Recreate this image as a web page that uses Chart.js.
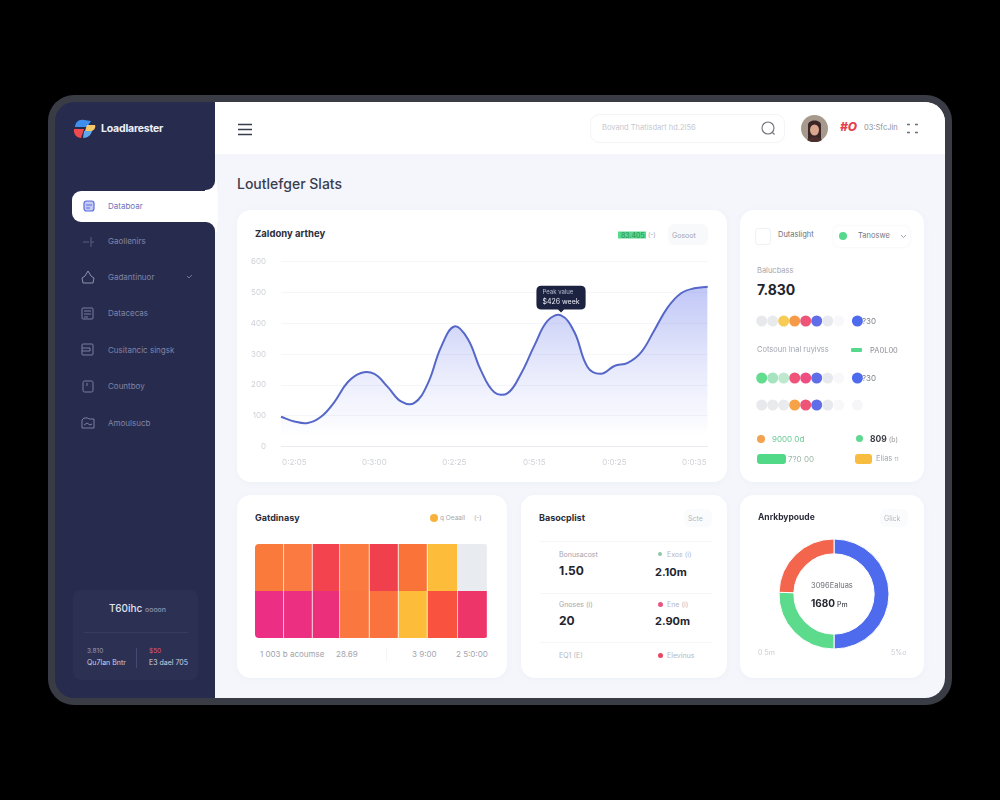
<!DOCTYPE html>
<html>
<head>
<meta charset="utf-8">
<title>Loutlefger Slats</title>
<script src="https://cdn.jsdelivr.net/npm/chart.js@4"></script>
<style>
html,body{margin:0;padding:0;background:#000;width:1000px;height:800px;overflow:hidden;font-family:Inter,"Noto Sans",sans-serif}
.box,.t,canvas,svg{position:absolute}
.t{white-space:nowrap;line-height:1;transform:translateY(-50%)}
.card{position:absolute;background:#fff;border-radius:14px;box-shadow:0 1px 6px rgba(120,130,170,.05)}
.nav{font-size:8px;color:#8084a6}
.gray{font-size:7.5px;color:#a3a6b1}
.ttl{font-size:9.5px;font-weight:700;color:#2b2d3a}
.big{font-weight:700;color:#22242e}
</style>
</head>
<body>
<!-- frame -->
<div class="box" style="left:48px;top:95px;width:904px;height:610px;background:#3a3c45;border-radius:26px"></div>
<div class="box" style="left:55px;top:102px;width:890px;height:596px;background:#272c4e;border-radius:20px;overflow:hidden">
  <div class="box" style="left:160px;top:0;width:730px;height:596px;background:#f4f6fb"></div>
  <div class="box" style="left:160px;top:0;width:730px;height:52px;background:#fff"></div>
  <div class="box" style="left:150px;top:78px;width:12px;height:52px;background:#fff"></div>
  <div class="box" style="left:0;top:0;width:160px;height:88px;background:#272c4e;border-bottom-right-radius:9px;border-top-right-radius:7px"></div>
  <div class="box" style="left:0;top:120px;width:160px;height:476px;background:#272c4e;border-top-right-radius:9px;border-bottom-right-radius:4px"></div>
  <div class="box" style="left:17px;top:89px;width:146px;height:31px;background:#fff;border-radius:9px 0 0 9px"></div>
</div>

<!-- sidebar -->
<svg style="left:73px;top:119px" width="23" height="21" viewBox="0 0 23 21">
  <path d="M2 9C2 3 6 0 11 1l7 1-4 6H2z" fill="#3f8ff0"/>
  <path d="M1 10h10l-3 9C4 19 0 15 1 10z" fill="#ee4a4f"/>
  <path d="M14 6h8c1 3-1 5-3 6h-7z" fill="#f6c66a"/>
  <path d="M11 12h8c-1 4-4 7-9 7z" fill="#5fa8ee"/>
</svg>
<div class="t" style="left:101px;top:129px;font-size:10.5px;font-weight:700;color:#eef0f8;letter-spacing:-.2px">Loadlarester</div>

<svg style="left:83px;top:200px" width="12" height="12" viewBox="0 0 12 12"><rect x="1" y="1" width="10" height="10" rx="2.5" fill="#c4cbf4" stroke="#5a6cdc" stroke-width="1.2"/><path d="M3 5h6M3 8h4" stroke="#5a6cdc"/></svg>
<div class="t nav" style="left:108px;top:206px;color:#6a74bc">Databoar</div>

<svg style="left:81px;top:234px" width="15" height="15" viewBox="0 0 15 15" fill="none" stroke="#585d82"><path d="M2 8h6M10 3v10M10 8h3"/></svg>
<div class="t nav" style="left:108px;top:241px">Gaollenirs</div>
<svg style="left:81px;top:270px" width="14" height="14" viewBox="0 0 14 14" fill="none" stroke="#8d91ad"><path d="M7 1l3 5 3 2-1 5H2L1 8l3-2z"/></svg>
<div class="t nav" style="left:108px;top:277px">Gadantinuor</div>
<svg style="left:81px;top:307px" width="13" height="13" viewBox="0 0 13 13" fill="none" stroke="#7b7fa0"><rect x="1" y="1" width="11" height="11" rx="1"/><path d="M3 4h7M3 7h7M3 10h4"/></svg>
<div class="t nav" style="left:108px;top:313px">Datacecas</div>
<svg style="left:81px;top:343px" width="13" height="13" viewBox="0 0 13 13" fill="none" stroke="#7b7fa0"><rect x="1" y="1" width="11" height="11" rx="1"/><path d="M1 5h8v3H1"/></svg>
<div class="t nav" style="left:108px;top:350px">Cusitancic singsk</div>
<svg style="left:82px;top:380px" width="12" height="13" viewBox="0 0 12 13" fill="none" stroke="#7b7fa0"><rect x="1" y="1" width="10" height="11" rx="1.5"/><path d="M5 3v3"/></svg>
<div class="t nav" style="left:108px;top:386px">Countboy</div>
<svg style="left:81px;top:417px" width="14" height="12" viewBox="0 0 14 12" fill="none" stroke="#7b7fa0"><path d="M1 11V3l2-2h4l1 1h5v9zM3 8l3-2 3 2 2-1"/></svg>
<div class="t nav" style="left:108px;top:423px">Amoulsucb</div>
<svg style="left:186px;top:274px" width="7" height="6" viewBox="0 0 7 6" fill="none" stroke="#70759a"><path d="M1 2l2 2 3-3"/></svg>

<div class="box" style="left:73px;top:590px;width:125px;height:90px;background:#2c3154;border-radius:8px"></div>
<div class="t" style="left:109px;top:608px;font-size:10px;font-weight:500;color:#dfe2ef">T60ihc <span style="font-size:7px;color:#8d91ad">oooon</span></div>
<div class="box" style="left:84px;top:632px;width:104px;height:1px;background:#363b60"></div>
<div class="box" style="left:136px;top:648px;width:1px;height:20px;background:#444a72"></div>
<div class="t" style="left:87px;top:651px;font-size:6.5px;color:#9a9eba">3.810</div>
<div class="t" style="left:87px;top:662px;font-size:7px;color:#cfd2e2">Qu7lan Bntr</div>
<div class="t" style="left:149px;top:651px;font-size:6.5px;color:#e8566a">$50</div>
<div class="t" style="left:149px;top:662px;font-size:7px;color:#cfd2e2">E3 dael 705</div>

<!-- header -->
<svg style="left:237px;top:123px" width="16" height="13" viewBox="0 0 16 13" stroke="#3a3d4d" stroke-width="1.3"><path d="M1 1.5h14M1 6.5h14M1 11.5h14"/></svg>
<div class="box" style="left:590px;top:114px;width:195px;height:29px;box-sizing:border-box;border:1px solid #f3f4f7;border-radius:9px"></div>
<div class="t" style="left:602px;top:128px;font-size:7.5px;color:#c6c8cf">Bovand Thatisdart hd.2l56</div>
<svg style="left:760px;top:120px" width="17" height="17" viewBox="0 0 17 17" fill="none" stroke="#6d7079" stroke-width="1.1"><circle cx="8" cy="8" r="6"/><path d="M12.5 12.5l2 2"/></svg>
<svg style="left:801px;top:115px" width="27" height="27" viewBox="0 0 27 27">
  <circle cx="13.5" cy="13.5" r="13.5" fill="#a79a8c"/>
  <path d="M7 24V10c0-6 13-6 13 0v14z" fill="#3a2626"/>
  <ellipse cx="13.5" cy="15" rx="4.5" ry="5.5" fill="#d9a78e"/>
  <path d="M6 25c2-4 13-4 15 0-4 3-11 3-15 0z" fill="#4b2f2c"/>
</svg>
<div class="t" style="left:840px;top:127px;font-size:12px;font-weight:800;font-style:italic;color:#e3404f">#O</div>
<div class="t gray" style="left:864px;top:128px;color:#8d9099">03:SfcJin</div>
<svg style="left:907px;top:123px" width="11" height="11" viewBox="0 0 11 11" stroke="#6d7079" stroke-width="1.4"><path d="M0 1.5h3M8 1.5h3M0 9.5h3M8 9.5h3"/></svg>

<div class="t" style="left:237px;top:184px;font-size:14px;font-weight:500;color:#3a3d4f">Loutlefger Slats</div>

<!-- cards -->
<div class="card" style="left:237px;top:210px;width:490px;height:272px"></div>
<div class="card" style="left:740px;top:210px;width:184px;height:272px"></div>
<div class="card" style="left:237px;top:495px;width:270px;height:183px"></div>
<div class="card" style="left:521px;top:495px;width:206px;height:183px"></div>
<div class="card" style="left:740px;top:495px;width:184px;height:183px"></div>

<!-- line card -->
<div class="t ttl" style="left:255px;top:234px">Zaldony arthey</div>
<div class="t" style="left:618px;top:234.5px;font-size:7px;color:#2f8f5a;background:#56d98d;padding:0 1px 0 3px;height:7px;line-height:7px">83.405</div>
<div class="t gray" style="left:648px;top:235px;font-size:6.5px">(-)</div>
<div class="box" style="left:668px;top:224px;width:40px;height:21px;background:#f8f9fb;border-radius:6px"></div>
<div class="t gray" style="left:672px;top:235px;font-size:7px">Gosoot</div>
<canvas id="lineChart" width="472" height="233" style="left:245px;top:242px"></canvas>

<!-- side card -->
<div class="box" style="left:755px;top:228px;width:16px;height:17px;border:1px solid #f0f1f4;border-radius:3px;box-sizing:border-box"></div>
<div class="t gray" style="left:778px;top:235px;color:#6c6f78">Dutaslight</div>
<div class="box" style="left:833px;top:226px;width:77px;height:21px;border-radius:7px;box-shadow:0 0 3px rgba(120,130,170,.12)"></div>
<div class="box" style="left:839px;top:232px;width:8px;height:8px;background:#56d98d;border-radius:50%"></div>
<div class="t gray" style="left:858px;top:236px;color:#74777f">Tanoswe</div>
<svg style="left:900px;top:234px" width="7" height="5" viewBox="0 0 7 5" fill="none" stroke="#a3a6b1"><path d="M1 1l2.5 2.5L6 1"/></svg>
<div class="t gray" style="left:757px;top:271px">Balucbass</div>
<div class="t big" style="left:757px;top:290px;font-size:14px">7.830</div>
<canvas id="dotsA" width="120" height="16" style="left:755px;top:313px"></canvas>
<div class="t gray" style="left:862px;top:321px;font-size:8px;color:#7d8088">?30</div>
<div class="t gray" style="left:757px;top:350px">Cotsoun Inal ruyivss</div>
<div class="box" style="left:851px;top:348px;width:11px;height:4px;background:#56d98d;border-radius:1px"></div>
<div class="t gray" style="left:870px;top:351px;color:#8a8d95">PA0L00</div>
<canvas id="dotsB" width="120" height="16" style="left:755px;top:370px"></canvas>
<div class="t gray" style="left:862px;top:378px;font-size:8px;color:#7d8088">?30</div>
<canvas id="dotsC" width="120" height="16" style="left:755px;top:397px"></canvas>
<div class="box" style="left:757px;top:435px;width:8px;height:8px;background:#f4a24f;border-radius:50%"></div>
<div class="t" style="left:772px;top:439px;font-size:8px;color:#67c993">9000 0d</div>
<div class="box" style="left:856px;top:435px;width:7px;height:7px;background:#5fd98f;border-radius:50%"></div>
<div class="t big" style="left:870px;top:439px;font-size:8.5px;color:#3c3e47">809 <span style="font-weight:400;font-size:7px;color:#999">(b)</span></div>
<div class="box" style="left:757px;top:454px;width:29px;height:10px;background:#52d987;border-radius:3px"></div>
<div class="t" style="left:788px;top:459px;font-size:8px;color:#9fb8aa">7?0 00</div>
<div class="box" style="left:855px;top:454px;width:17px;height:10px;background:#f8bd3f;border-radius:3px"></div>
<div class="t gray" style="left:876px;top:459px">Elias <span style="font-size:5px">11</span></div>

<!-- heatmap card -->
<div class="t ttl" style="left:255px;top:517px;font-size:9px">Gatdinasy</div>
<div class="box" style="left:430px;top:514px;width:8px;height:8px;background:#f8b13d;border-radius:50%"></div>
<div class="t gray" style="left:440px;top:518px;font-size:6.5px">q Oeaall</div>
<div class="t gray" style="left:474px;top:518px;font-size:6.5px">(-)</div>
<div class="box" style="left:255px;top:544px;width:233px;height:94px;border-radius:4px;overflow:hidden">
  <canvas id="heatChart" width="233" height="94" style="left:0;top:0"></canvas>
</div>
<div class="t gray" style="left:260px;top:654px;font-size:8px;color:#a0a3ac">1 003 b acoumse</div>
<div class="t gray" style="left:336px;top:654px;font-size:8px">28.69</div>
<div class="box" style="left:386px;top:648px;width:1px;height:14px;background:#f4f5f8"></div>
<div class="t gray" style="left:412px;top:654px;font-size:8px">3 9:00</div>
<div class="t gray" style="left:456px;top:654px;font-size:8px">2 5:0:00</div>

<!-- list card -->
<div class="t ttl" style="left:539px;top:517px;font-size:9px">Basocplist</div>
<div class="box" style="left:684px;top:509px;width:28px;height:18px;background:#fafbfc;border-radius:6px"></div>
<div class="t gray" style="left:688px;top:518px;font-size:7px;color:#b5b7bf">Scte</div>
<div class="box" style="left:540px;top:541px;width:172px;height:1px;background:#f5f6f9"></div>
<div class="t gray" style="left:559px;top:554px;font-size:7px">Bonusacost</div>
<div class="t big" style="left:559px;top:571px;font-size:12px">1.50</div>
<div class="box" style="left:658px;top:552px;width:4px;height:4px;background:#8fc7a8;border-radius:50%"></div>
<div class="t gray" style="left:667px;top:554px;font-size:7px;color:#b5b7bf">Exos (i)</div>
<div class="t big" style="left:655px;top:572px;font-size:11px">2.10m</div>
<div class="box" style="left:540px;top:593px;width:172px;height:1px;background:#f5f6f9"></div>
<div class="t gray" style="left:559px;top:604px;font-size:7px">Gnoses (i)</div>
<div class="t big" style="left:559px;top:621px;font-size:12px">20</div>
<div class="box" style="left:658px;top:602px;width:5px;height:5px;background:#e8567e;border-radius:50%"></div>
<div class="t gray" style="left:667px;top:604px;font-size:7px;color:#b5b7bf">Ene (i)</div>
<div class="t big" style="left:655px;top:621px;font-size:11px">2.90m</div>
<div class="box" style="left:540px;top:642px;width:172px;height:1px;background:#f5f6f9"></div>
<div class="t gray" style="left:559px;top:655px;font-size:7px;color:#b5b7bf">EQ1 (E)</div>
<div class="box" style="left:658px;top:653px;width:5px;height:5px;background:#e8455f;border-radius:50%"></div>
<div class="t gray" style="left:667px;top:655px;font-size:7px;color:#b5b7bf">Elevinus</div>

<!-- donut card -->
<div class="t ttl" style="left:758px;top:517px;font-size:8.5px">Anrkbypoude</div>
<div class="box" style="left:880px;top:509px;width:28px;height:18px;background:#fafbfc;border-radius:6px"></div>
<div class="t gray" style="left:884px;top:518px;font-size:7px;color:#b5b7bf">Glick</div>
<canvas id="donutChart" width="120" height="120" style="left:773.5px;top:533.5px"></canvas>
<div class="t" style="left:811px;top:586px;font-size:7.5px;color:#6c6f78">3096Ealuas</div>
<div class="t big" style="left:811px;top:603px;font-size:10px">1680<span style="font-weight:400;font-size:7px"> Pm</span></div>
<div class="t gray" style="left:758px;top:652px;font-size:7px;color:#c9cbd2">0 5m</div>
<div class="t gray" style="left:891px;top:652px;font-size:7px;color:#c9cbd2">5%o</div>

<script>
// line chart
const categories = ['', '0:2:05', '', '', '', '', '', '0:3:00', '', '', '', '', '', '0:2:25', '', '', '', '', '', '0:5:15', '', '', '', '', '', '0:0:25', '', '', '', '', '', '0:0:35', ''];
const lineValues = [97, 82, 77, 97, 145, 209, 239, 236, 194, 147, 142, 204, 323, 390, 350, 247, 177, 174, 237, 328, 409, 426, 372, 258, 237, 262, 272, 306, 378, 452, 498, 514, 519];
const yMax = 600;
const yStep = 100;
const peakIndex = 21;
const tooltipTitle = 'Peak value';
const tooltipBody = '$426 week';

// heatmap: one stacked dataset per column, one bar per row
const heatRows = ['top', 'bottom'];
const heatColumnWidths = [29, 28.5, 27.5, 29.5, 29, 29, 30.5, 29.5];
const heatTopColours = ['#fa7a3c', '#fa7a42', '#f3434f', '#fa7a40', '#f0404e', '#fa743a', '#fdbd3a', '#e8ebf0'];
const heatBottomColours = ['#ec2f85', '#ec2f80', '#ec2f7a', '#fa7840', '#fa723e', '#fdbd3a', '#f9523f', '#ee3569'];

// donut
const donutLabels = ['Blue', 'Green', 'Red'];
const donutValues = [50, 25.5, 24.5];
const donutColours = ['#4f6bed', '#5ddb8c', '#f4654e'];

// dot rows
const dotX = [0, 1, 2, 3, 4, 5, 6, 7, 8.7];
const dotsA = ['#e8e9ec', '#e9eaec', '#f7cb55', '#f59a48', '#ee5478', '#5f6ee8', '#e8e9ee', '#f8f8fa', '#4f6bed'];
const dotsB = ['#62dc8f', '#a5e4be', '#bfe9cf', '#ef5478', '#ee4f82', '#5f6ee8', '#e8e9ee', '#f8f8fa', '#4f6bed'];
const dotsC = ['#e8e9ec', '#e9eaec', '#eaebee', '#f6a347', '#ee5478', '#5f6ee8', '#e8e9ee', '#f8f8fa', '#f6f6f8'];

Chart.defaults.animation = false;
Chart.defaults.responsive = false;
Chart.defaults.font.family = 'Inter, "Noto Sans", sans-serif';

function lineGradient(context) {
  const area = context.chart.chartArea;
  if (!area) return 'rgba(93,110,230,.3)';
  const g = context.chart.ctx.createLinearGradient(0, area.top + 25, 0, area.bottom - 10);
  g.addColorStop(0, 'rgba(90,108,232,.38)');
  g.addColorStop(0.55, 'rgba(90,108,232,.14)');
  g.addColorStop(1, 'rgba(90,108,232,0)');
  return g;
}

const lineChart = new Chart(document.getElementById('lineChart'), {
  type: 'line',
  data: {
    labels: categories,
    datasets: [{
      data: lineValues,
      borderColor: '#5567c8',
      borderWidth: 2,
      backgroundColor: lineGradient,
      fill: 'origin',
      tension: 0.4,
      pointRadius: 0,
      pointHoverRadius: 0
    }]
  },
  options: {
    layout: { autoPadding: false, padding: { top: 0, right: 9.3, bottom: 0, left: 0 } },
    events: [],
    plugins: {
      legend: { display: false },
      tooltip: {
        enabled: true,
        yAlign: 'bottom',
        xAlign: 'center',
        backgroundColor: '#1c2340',
        cornerRadius: 5,
        caretSize: 3,
        caretPadding: 3,
        padding: { top: 3, bottom: 3, left: 6, right: 6 },
        displayColors: false,
        titleFont: { size: 6, weight: 'normal' },
        titleColor: '#b8bdd4',
        titleMarginBottom: 2,
        bodyFont: { size: 7 },
        bodyColor: '#e8eaf4',
        callbacks: {
          title: () => tooltipTitle,
          label: () => tooltipBody
        }
      }
    },
    scales: {
      x: {
        grid: { display: false },
        border: { color: '#e9ebf1' },
        offset: false,
        afterFit: s => { s.height = 28.3; },
        ticks: {
          color: '#cfd1d8',
          font: { size: 8 },
          padding: 3,
          autoSkip: false,
          maxRotation: 0
        }
      },
      y: {
        min: 0,
        max: yMax,
        grid: { color: '#f5f6f9', drawTicks: false },
        border: { display: false },
        afterFit: s => { s.width = 36; },
        ticks: { stepSize: yStep, color: '#cfd1d8', font: { size: 8 }, padding: 15 }
      }
    }
  }
});
lineChart.tooltip.setActiveElements([{ datasetIndex: 0, index: peakIndex }], { x: 0, y: 0 });
lineChart.update();

new Chart(document.getElementById('heatChart'), {
  type: 'bar',
  data: {
    labels: heatRows,
    datasets: heatColumnWidths.map((w, i) => ({
      data: [w, w],
      backgroundColor: [heatTopColours[i], heatBottomColours[i]],
      borderColor: 'rgba(255,255,255,.3)',
      borderWidth: { right: 1 },
      barPercentage: 1,
      categoryPercentage: 1
    }))
  },
  options: {
    indexAxis: 'y',
    events: [],
    layout: { padding: 0 },
    plugins: { legend: { display: false }, tooltip: { enabled: false } },
    scales: {
      x: { stacked: true, display: false, min: 0, max: 233 },
      y: { stacked: true, display: false }
    }
  }
});

new Chart(document.getElementById('donutChart'), {
  type: 'doughnut',
  data: {
    labels: donutLabels,
    datasets: [{ data: donutValues, backgroundColor: donutColours, borderColor: '#fff', borderWidth: 1 }]
  },
  options: {
    cutout: '73%',
    radius: 55,
    events: [],
    plugins: { legend: { display: false }, tooltip: { enabled: false } }
  }
});

function drawDots(id, colours) {
  new Chart(document.getElementById(id), {
    type: 'scatter',
    data: {
      datasets: [{
        data: dotX.map(x => ({ x: x, y: 0 })),
        backgroundColor: colours,
        borderWidth: 0,
        pointRadius: 5.5,
        pointHoverRadius: 5.5
      }]
    },
    options: {
      events: [],
      layout: { autoPadding: false, padding: 0 },
      plugins: { legend: { display: false }, tooltip: { enabled: false } },
      scales: {
        // 1 unit = 11px, first dot 6.7px in from the canvas edge
        x: { type: 'linear', display: false, min: -0.61, max: 10.3 },
        y: { type: 'linear', display: false, min: -1, max: 1 }
      }
    }
  });
}
drawDots('dotsA', dotsA);
drawDots('dotsB', dotsB);
drawDots('dotsC', dotsC);
</script>
</body>
</html>
